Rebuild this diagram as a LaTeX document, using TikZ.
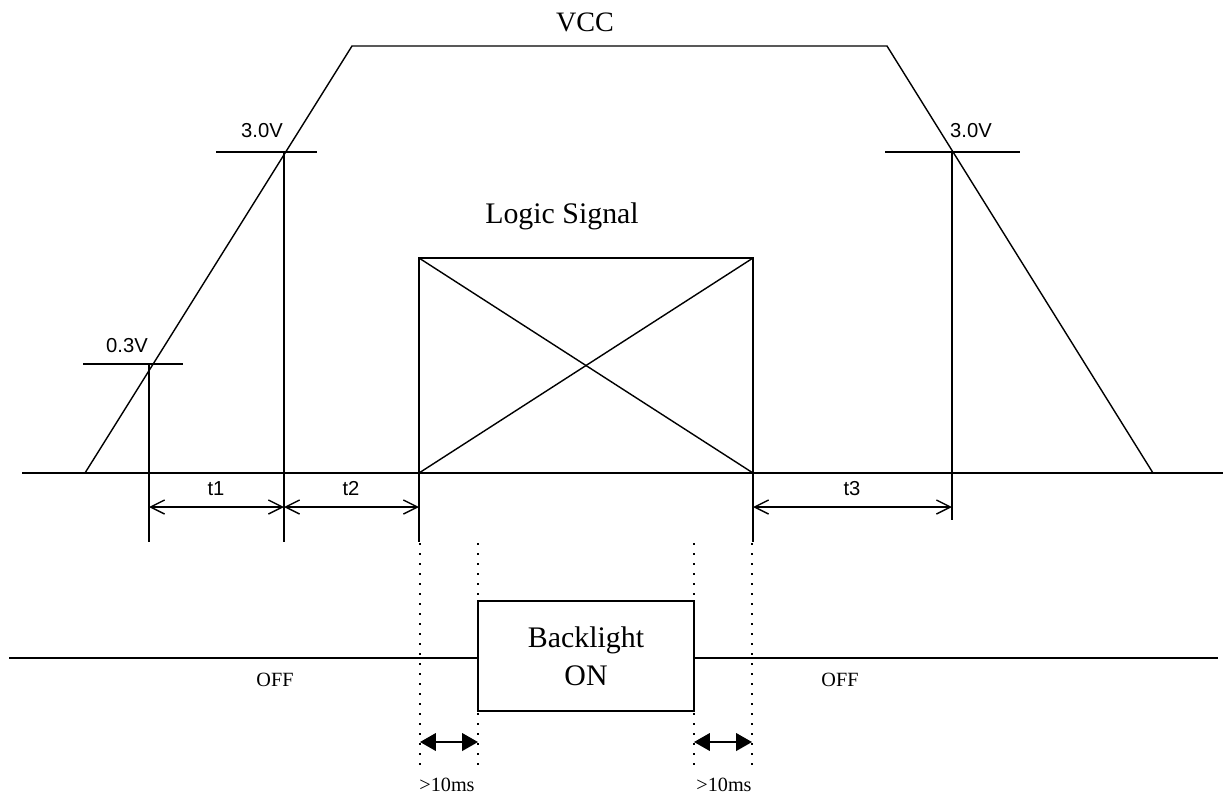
\documentclass[tikz,border=0pt]{standalone}
\usepackage{fontspec}
\setmainfont{Liberation Serif}
\newfontfamily\pixfont{Liberation Sans}
\usetikzlibrary{arrows.meta,calc}

\begin{document}
\begin{tikzpicture}[
    x=0.02cm, y=-0.02cm,
    ln/.style={line width=0.8pt},
    dim/.style={line width=0.8pt, {Straight Barb[length=8pt,width=8pt]}-{Straight Barb[length=8pt,width=8pt]}},
    gap/.style={line width=1pt, {Triangle[length=9pt,width=10pt]}-{Triangle[length=9pt,width=10pt]}},
    dots/.style={line width=1.1pt, dash pattern=on 1.1pt off 4.6pt},
    big/.style={font=\fontsize{17}{21.5}\selectfont, align=center, inner sep=0pt},
    small/.style={font=\fontsize{11.5}{13}\selectfont, inner sep=0pt, anchor=base},
    pix/.style={font=\pixfont\fontsize{11.5}{13}\selectfont, inner sep=0pt, anchor=base}
]
    \useasboundingbox (0,0) rectangle (1223,796);

    % supply ramp
    \coordinate (r0) at (85,473);
    \coordinate (r03) at (149,364);
    \coordinate (r30) at (284,152);
    \coordinate (rtop) at (352,46);
    \coordinate (ftop) at (887,46);
    \coordinate (f30) at (952,152);
    \coordinate (fend) at (1153,473);

    \draw [ln] (22,473) -- (1223,473);
    \draw [ln] (r0) -- (rtop) -- (ftop) -- (fend);
    \node [big, font=\fontsize{16}{20}\selectfont, anchor=base] (vcc) at (585,31) {VCC};

    % threshold levels
    \draw [ln] (83,364) -- (183,364);
    \draw [ln] (216,152) -- (317,152);
    \draw [ln] (885,152) -- (1020,152);
    \node [pix] (v03) at (127,352) {0.3V};
    \node [pix] (v30a) at (262,137) {3.0V};
    \node [pix] (v30b) at (971,137) {3.0V};

    % logic signal box
    \coordinate (lsw) at (419,473);
    \coordinate (lne) at (753,258);
    \draw [ln] (lsw) rectangle (lne);
    \draw [ln] (lsw) -- (lne);
    \draw [ln] (lsw |- lne) -- (lne |- lsw);
    \node [big, anchor=base] (logic) at (562,223) {Logic Signal};

    % timing marks
    \coordinate (m1) at (149,542);
    \coordinate (m2) at (284,542);
    \coordinate (m3) at (419,542);
    \coordinate (m4) at (753,542);
    \coordinate (m5) at (952,520);
    \draw [ln] (r03) -- (m1);
    \draw [ln] (r30) -- (m2);
    \draw [ln] (lsw |- lne) -- (m3);
    \draw [ln] (lne) -- (m4);
    \draw [ln] (f30) -- (m5);

    \draw [dim] ($(m1)+(0,-35)$) -- ($(m2)+(0,-35)$);
    \draw [dim] ($(m2)+(0,-35)$) -- ($(m3)+(0,-35)$);
    \draw [dim] ($(m4)+(0,-35)$) -- ($(m5)+(0,-13)$);
    \node [pix] (t1) at (216,495) {t1};
    \node [pix] (t2) at (351,495) {t2};
    \node [pix] (t3) at (852,495) {t3};

    % backlight
    \node [big, draw, line width=0.8pt, minimum width=216*0.02cm, minimum height=110*0.02cm] (bl) at (586,656) {Backlight\\ON};
    \draw [ln] (9,658) -- (bl.west |- 0,658);
    \draw [ln] (bl.east |- 0,658) -- (1218,658);
    \node [small] (off1) at (275,686) {OFF};
    \node [small] (off2) at (840,686) {OFF};

    \foreach \x in {420,478,694,752}
        \draw [dots] (\x,543) -- (\x,767);

    \draw [gap] (420,742) -- (478,742);
    \draw [gap] (694,742) -- (752,742);
    \node [small] (g1) at (447,791) {>10ms};
    \node [small] (g2) at (724,791) {>10ms};
\end{tikzpicture}
\end{document}
